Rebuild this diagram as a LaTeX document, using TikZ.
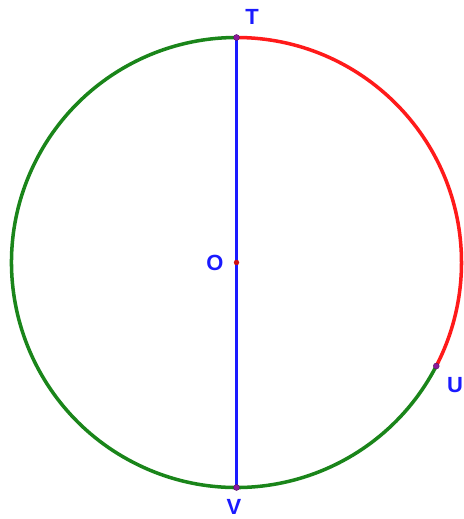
\documentclass[tikz,border=0pt]{standalone}
\usepackage{fontspec}
\setmainfont{Liberation Sans}
\usetikzlibrary{positioning}
\definecolor{arcGreen}{HTML}{1A851A}
\definecolor{arcRed}{HTML}{FF1A1A}
\definecolor{diamBlue}{HTML}{1A1AFF}
\definecolor{ptPurple}{HTML}{8B1A9B}
\definecolor{ptRed}{HTML}{D01010}
\tikzset{
  arcline/.style ={line width=2pt},
  diam/.style    ={line width=2pt, draw=diamBlue},
  lbl/.style     ={text=diamBlue, font=\bfseries\fontsize{12.5}{14}\selectfont, inner sep=1pt},
  pt/.style      ={circle, fill=ptPurple, draw=ptPurple!60!black, line width=0.2pt, inner sep=0pt, minimum size=1.2mm},
}
\begin{document}
\begin{tikzpicture}[x=0.02cm, y=-0.02cm]
  \useasboundingbox (0,0) rectangle (463,519);
  % centre and points on the circle
  \coordinate (O) at (236.5,262.5);
  \coordinate (T) at ([shift={(-90:225)}]O);
  \coordinate (U) at ([shift={(27.4:225)}]O);
  \coordinate (V) at ([shift={(90:225)}]O);

  % the two arcs
  \draw[arcline, draw=arcGreen] (U) arc[start angle=27.4, end angle=270, radius=225];
  \draw[arcline, draw=arcRed] (T) arc[start angle=-90, end angle=27.4, radius=225];

  % diameter
  \draw[diam] (T) -- (V);

  % points
  \node[pt] (pT) at (T) {};
  \node[pt] (pU) at (U) {};
  \node[pt] (pV) at (V) {};
  \node[pt, fill=ptRed, draw=ptRed, minimum size=1mm] (pO) at (O) {};

  % labels
  \node[lbl] (labT) at (252,17) {T};
  \node[lbl] (labO) at (215,263) {O};
  \node[lbl] (labU) at (455,385) {U};
  \node[lbl] (labV) at (234,507) {V};
\end{tikzpicture}
\end{document}
